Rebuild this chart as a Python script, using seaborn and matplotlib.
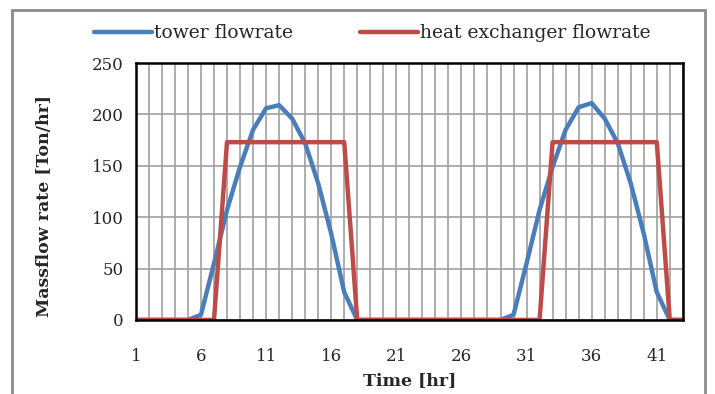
import numpy as np
import pandas as pd
import matplotlib.pyplot as plt
import seaborn as sns
from matplotlib.patches import Rectangle

# hourly values
time_hr = list(range(1, 44))
tower = [0, 0, 0, 0, 0, 5, 55, 107, 149, 185, 206, 209, 196, 172, 133, 84, 27, 0,
         0, 0, 0, 0, 0, 0, 0, 0, 0, 0, 0, 5, 55, 107, 149, 185, 207, 211, 196, 172,
         133, 84, 27, 0, 0]
heatex = [0, 0, 0, 0, 0, 0, 0] + [173] * 10 + [0] * 15 + [173] * 9 + [0, 0]
x_ticks = [1, 6, 11, 16, 21, 26, 31, 36, 41]
y_ticks = [0, 50, 100, 150, 200, 250]

df = pd.DataFrame({'Time': time_hr * 2,
                   'flow': tower + heatex,
                   'series': ['tower flowrate'] * 43 + ['heat exchanger flowrate'] * 43})

sns.set_style('white')
plt.rcParams['font.family'] = ['DejaVu Serif']

fig = plt.figure(figsize=(7.15, 3.94), dpi=100)
ax = fig.add_axes([0.190, 0.188, 0.765, 0.652])

sns.lineplot(data=df, x='Time', y='flow', hue='series',
             palette={'tower flowrate': '#4a7ebb', 'heat exchanger flowrate': '#be4b48'},
             linewidth=3.2, ax=ax, legend=True)

ax.set_xlim(1, 43)
ax.set_ylim(0, 250)
ax.set_xticks(np.arange(1, 44), minor=True)
ax.set_xticks(x_ticks)
ax.set_yticks(y_ticks)
ax.grid(True, which='both', axis='x', color='#a0a0a0', linewidth=1.2)
ax.grid(True, which='major', axis='y', color='#a0a0a0', linewidth=1.2)
ax.set_axisbelow(True)
for s in ax.spines.values():
    s.set_color('black')
    s.set_linewidth(1.8)
ax.tick_params(axis='x', which='both', length=0, pad=20, labelsize=12)
ax.tick_params(axis='y', length=0, pad=9, labelsize=12)
ax.set_xlabel('Time [hr]', fontsize=12.5, fontweight='bold', labelpad=5)
ax.set_ylabel('Massflow rate [Ton/hr]', fontsize=12.5, fontweight='bold')
ax.yaxis.set_label_coords(-0.152, 0.445)

handles, labels = ax.get_legend_handles_labels()
ax.legend(handles, labels, loc='lower center', bbox_to_anchor=(0.432, 1.015), ncol=2,
          frameon=False, fontsize=13.5, handlelength=3.1, handletextpad=0.1,
          columnspacing=3.6)

fig.patches.append(Rectangle((0.017, -0.1), 0.969, 1.075, transform=fig.transFigure,
                             fill=False, edgecolor='#8c8c8c', linewidth=2))

fig.savefig('out.png', dpi=100)
